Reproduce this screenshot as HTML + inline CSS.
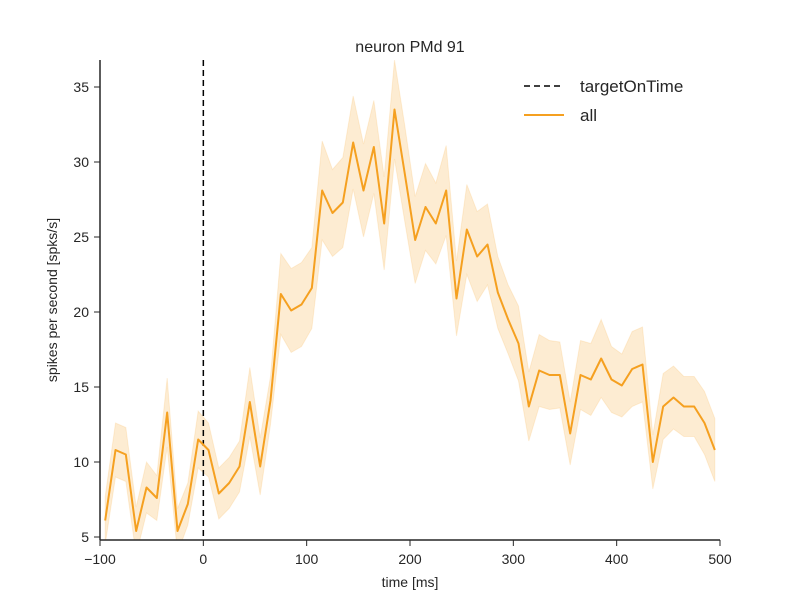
<!DOCTYPE html>
<html><head><meta charset="utf-8"><style>
body{margin:0;background:#fff}
svg text{font-family:"Liberation Sans","DejaVu Sans",sans-serif;fill:#262626}
</style></head><body>
<svg id="c" width="800" height="600" xmlns="http://www.w3.org/2000/svg">
<defs><clipPath id="clip"><rect x="100" y="60" width="620" height="480"/></clipPath></defs>
<g id="band" clip-path="url(#clip)"></g>
<g id="lines" clip-path="url(#clip)"></g>
<g id="axes"></g>
<text x="410" y="52" text-anchor="middle" font-size="16">neuron PMd 91</text>
<text x="410" y="587" text-anchor="middle" font-size="14">time [ms]</text>
<text transform="translate(57,300) rotate(-90)" text-anchor="middle" font-size="14">spikes per second [spks/s]</text>
<g>
<line x1="524" y1="86" x2="564" y2="86" stroke="#000" stroke-width="1.5" stroke-dasharray="6,4"/>
<text x="580" y="92" font-size="17">targetOnTime</text>
<line x1="524" y1="115" x2="564" y2="115" stroke="#f5a020" stroke-width="2"/>
<text x="580" y="121" font-size="17">all</text>
</g>
</svg>
<script>
const times=[-95,-85,-75,-65,-55,-45,-35,-25,-15,-5,5,15,25,35,45,55,65,75,85,95,105,115,125,135,145,155,165,175,185,195,205,215,225,235,245,255,265,275,285,295,305,315,325,335,345,355,365,375,385,395,405,415,425,435,445,455,465,475,485,495];
const meanRate=[6.1,10.8,10.5,5.4,8.3,7.6,13.3,5.4,7.2,11.5,10.8,7.9,8.6,9.7,14.0,9.7,14.1,21.2,20.1,20.5,21.6,28.1,26.6,27.3,31.3,28.1,31.0,25.9,33.5,29.2,24.8,27.0,25.9,28.1,20.9,25.5,23.7,24.5,21.3,19.5,17.9,13.7,16.1,15.8,15.8,11.9,15.8,15.5,16.9,15.5,15.1,16.2,16.5,10.0,13.7,14.3,13.7,13.7,12.6,10.8];
const semRate=[1.6,1.8,1.8,1.6,1.7,1.5,2.3,1.5,1.4,1.9,1.8,1.7,1.7,1.7,2.3,1.9,1.6,2.7,2.8,2.8,2.7,3.3,2.9,3.0,3.1,3.1,3.1,3.1,3.3,3.2,2.9,2.9,2.7,3.0,2.5,3.0,3.0,2.7,2.4,2.3,2.5,2.3,2.4,2.3,2.2,2.1,2.3,2.4,2.6,2.2,2.1,2.5,2.5,1.8,2.2,2.1,2.0,2.0,2.1,2.1];
const xTicks=[-100,0,100,200,300,400,500];
const yTicks=[5,10,15,20,25,30,35];
const eventTime=0;
const X=t=>100+(t+100)*620/600;
const Y=v=>537-(v-5)*15;
const NS="http://www.w3.org/2000/svg";
function mk(tag,attrs,parent){const e=document.createElementNS(NS,tag);for(const k in attrs)e.setAttribute(k,attrs[k]);parent.appendChild(e);return e;}
const band=document.getElementById('band'),lines=document.getElementById('lines'),axes=document.getElementById('axes');
let up=times.map((t,i)=>X(t)+','+Y(meanRate[i]+semRate[i]));
let lo=times.map((t,i)=>X(t)+','+Y(meanRate[i]-semRate[i])).reverse();
const bp=mk('polygon',{points:up.concat(lo).join(' '),fill:'#f5a020','fill-opacity':'0.2',stroke:'#f5a020','stroke-opacity':'0.15'},band);


const ev=mk('line',{x1:X(eventTime),x2:X(eventTime),y1:60,y2:540,stroke:'#000','stroke-width':1.5,'stroke-dasharray':'6,4'},lines);


const ml=mk('polyline',{points:times.map((t,i)=>X(t)+','+Y(meanRate[i])).join(' '),fill:'none',stroke:'#f5a020','stroke-width':2,'stroke-linejoin':'round'},lines);


const sx=mk('line',{x1:100,x2:720,y1:540,y2:540,stroke:'#262626','stroke-width':1.5},axes);


const sy=mk('line',{x1:100,x2:100,y1:60,y2:540,stroke:'#262626','stroke-width':1.5},axes);


xTicks.forEach(t=>{
  const l=mk('line',{x1:X(t),x2:X(t),y1:540,y2:546,stroke:'#262626','stroke-width':1},axes);
  
  
  const tx=mk('text',{x:X(t),y:564,'text-anchor':'middle','font-size':14},axes);
  tx.textContent=(t<0?'\u2212'+(-t):t);
  
  
});
yTicks.forEach(v=>{
  const l=mk('line',{x1:94,x2:100,y1:Y(v),y2:Y(v),stroke:'#262626','stroke-width':1},axes);
  
  
  const tx=mk('text',{x:89,y:Y(v)+5,'text-anchor':'end','font-size':14},axes);
  tx.textContent=v;
  
  
});
</script>
</body></html>
